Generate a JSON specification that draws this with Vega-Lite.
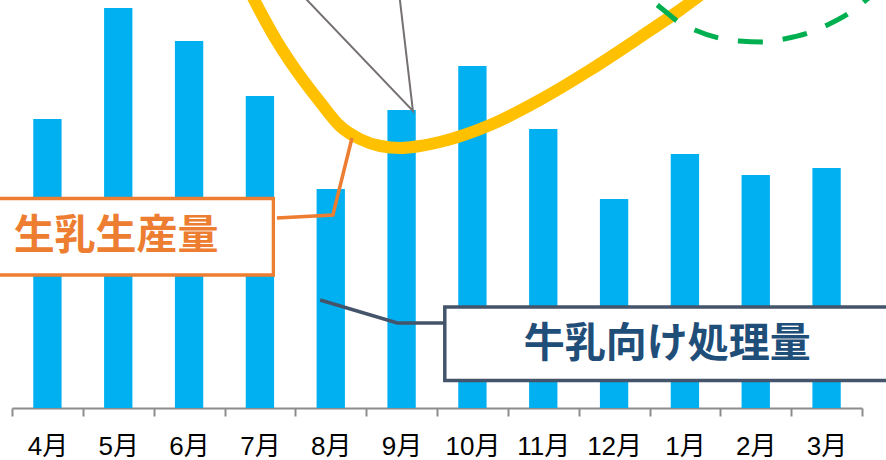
{
  "$schema": "https://vega.github.io/schema/vega-lite/v6.json",
  "width": 850,
  "height": 408,
  "autosize": {"type": "none"},
  "padding": {"left": 12, "top": 0, "right": 24, "bottom": 52},
  "background": "white",
  "config": {"view": {"stroke": null}},
  "datasets": {
    "bars": [
      {"month": "4月", "value": 289},
      {"month": "5月", "value": 400},
      {"month": "6月", "value": 367},
      {"month": "7月", "value": 312},
      {"month": "8月", "value": 219},
      {"month": "9月", "value": 298},
      {"month": "10月", "value": 342},
      {"month": "11月", "value": 279},
      {"month": "12月", "value": 209},
      {"month": "1月", "value": 254},
      {"month": "2月", "value": 233},
      {"month": "3月", "value": 240}
    ],
    "lines": [
      {"series": "production", "i": 1, "x": 3.78, "y": 428},
      {"series": "production", "i": 2, "x": 3.92, "y": 408},
      {"series": "production", "i": 3, "x": 4.07, "y": 388},
      {"series": "production", "i": 4, "x": 4.23, "y": 368},
      {"series": "production", "i": 5, "x": 4.41, "y": 348},
      {"series": "production", "i": 6, "x": 4.61, "y": 328},
      {"series": "production", "i": 7, "x": 4.86, "y": 305},
      {"series": "production", "i": 8, "x": 5.13, "y": 282},
      {"series": "production", "i": 9, "x": 5.41, "y": 269},
      {"series": "production", "i": 10, "x": 5.7, "y": 262},
      {"series": "production", "i": 11, "x": 5.98, "y": 260},
      {"series": "production", "i": 12, "x": 6.26, "y": 262},
      {"series": "production", "i": 13, "x": 6.54, "y": 266},
      {"series": "production", "i": 14, "x": 7.25, "y": 283},
      {"series": "production", "i": 15, "x": 7.95, "y": 308},
      {"series": "production", "i": 16, "x": 8.66, "y": 338},
      {"series": "production", "i": 17, "x": 9.37, "y": 371},
      {"series": "production", "i": 18, "x": 9.93, "y": 398},
      {"series": "production", "i": 19, "x": 10.35, "y": 420},
      {"series": "green", "i": 1, "x": 9.61, "y": 403},
      {"series": "green", "i": 2, "x": 9.75, "y": 395},
      {"series": "green", "i": 3, "x": 9.89, "y": 387},
      {"series": "green", "i": 4, "x": 10.14, "y": 378},
      {"series": "green", "i": 5, "x": 10.48, "y": 370},
      {"series": "green", "i": 6, "x": 10.76, "y": 367},
      {"series": "green", "i": 7, "x": 11.12, "y": 366},
      {"series": "green", "i": 8, "x": 11.4, "y": 369},
      {"series": "green", "i": 9, "x": 11.74, "y": 375},
      {"series": "green", "i": 10, "x": 12.01, "y": 383},
      {"series": "green", "i": 11, "x": 12.32, "y": 395},
      {"series": "green", "i": 12, "x": 12.61, "y": 411},
      {"series": "gray", "i": 1, "x": 4.53, "y": 418},
      {"series": "gray", "i": 2, "x": 6.16, "y": 297},
      {"series": "gray", "i": 3, "x": 5.96, "y": 418},
      {"series": "orangeLeader", "i": 1, "x": 4.24, "y": 190},
      {"series": "orangeLeader", "i": 2, "x": 5.03, "y": 193},
      {"series": "orangeLeader", "i": 3, "x": 5.3, "y": 270},
      {"series": "navyLeader", "i": 1, "x": 4.85, "y": 108},
      {"series": "navyLeader", "i": 2, "x": 5.94, "y": 85},
      {"series": "navyLeader", "i": 3, "x": 6.61, "y": 85}
    ],
    "boxes": [
      {"kind": "production", "x": 0.19, "x2": 4.19, "y": 209.5, "y2": 133, "tx": 1.97, "ty": 171, "label": "生乳生産量"},
      {"kind": "milk", "x": 6.61, "x2": 13.04, "y": 101, "y2": 27.5, "tx": 9.75, "ty": 63, "label": "牛乳向け処理量"}
    ]
  },
  "layer": [
    {
      "data": {"name": "bars"},
      "mark": {"type": "bar", "color": "#00B0F0", "width": {"band": 0.4}},
      "encoding": {
        "x": {
          "field": "month", "type": "nominal", "sort": null,
          "scale": {"paddingInner": 0, "paddingOuter": 0},
          "axis": {
            "title": null, "tickBand": "extent", "labelAngle": 0,
            "labelFont": "Liberation Sans, Noto Sans CJK JP", "labelFontSize": 26,
            "labelColor": "#000000", "labelPadding": 17.5,
            "domainColor": "#8C8C8C", "domainWidth": 2,
            "tickColor": "#8C8C8C", "tickWidth": 2, "tickSize": 8
          }
        },
        "y": {"field": "value", "type": "quantitative", "scale": {"domain": [0, 408], "nice": false}, "axis": null}
      }
    },
    {
      "layer": [
        {
          "data": {"name": "lines"},
          "transform": [{"filter": "datum.series === 'production'"}],
          "mark": {"type": "line", "color": "#FFC000", "strokeWidth": 12, "interpolate": "monotone", "strokeCap": "butt"},
          "encoding": {
            "x": {"field": "x", "type": "quantitative", "scale": {"domain": [0.5, 12.5], "nice": false, "zero": false}, "axis": null},
            "y": {"field": "y", "type": "quantitative", "scale": {"domain": [0, 408], "nice": false}, "axis": null},
            "order": {"field": "i"}
          }
        },
        {
          "data": {"name": "lines"},
          "transform": [{"filter": "datum.series === 'green'"}],
          "mark": {"type": "line", "color": "#00B050", "strokeWidth": 5, "interpolate": "monotone", "strokeDash": [25, 20], "strokeCap": "butt"},
          "encoding": {
            "x": {"field": "x", "type": "quantitative", "scale": {"domain": [0.5, 12.5], "nice": false, "zero": false}, "axis": null},
            "y": {"field": "y", "type": "quantitative", "scale": {"domain": [0, 408], "nice": false}, "axis": null},
            "order": {"field": "i"}
          }
        },
        {
          "data": {"name": "lines"},
          "transform": [{"filter": "datum.series === 'gray'"}],
          "mark": {"type": "line", "color": "#767171", "strokeWidth": 2},
          "encoding": {
            "x": {"field": "x", "type": "quantitative", "scale": {"domain": [0.5, 12.5], "nice": false, "zero": false}, "axis": null},
            "y": {"field": "y", "type": "quantitative", "scale": {"domain": [0, 408], "nice": false}, "axis": null},
            "order": {"field": "i"}
          }
        },
        {
          "data": {"name": "lines"},
          "transform": [{"filter": "datum.series === 'orangeLeader'"}],
          "mark": {"type": "line", "color": "#ED7D31", "strokeWidth": 3.5},
          "encoding": {
            "x": {"field": "x", "type": "quantitative", "scale": {"domain": [0.5, 12.5], "nice": false, "zero": false}, "axis": null},
            "y": {"field": "y", "type": "quantitative", "scale": {"domain": [0, 408], "nice": false}, "axis": null},
            "order": {"field": "i"}
          }
        },
        {
          "data": {"name": "lines"},
          "transform": [{"filter": "datum.series === 'navyLeader'"}],
          "mark": {"type": "line", "color": "#44546A", "strokeWidth": 3.5},
          "encoding": {
            "x": {"field": "x", "type": "quantitative", "scale": {"domain": [0.5, 12.5], "nice": false, "zero": false}, "axis": null},
            "y": {"field": "y", "type": "quantitative", "scale": {"domain": [0, 408], "nice": false}, "axis": null},
            "order": {"field": "i"}
          }
        },
        {
          "data": {"name": "boxes"},
          "transform": [{"filter": "datum.kind === 'production'"}],
          "mark": {"type": "rect", "fill": "white", "stroke": "#ED7D31", "strokeWidth": 3.3},
          "encoding": {
            "x": {"field": "x", "type": "quantitative", "scale": {"domain": [0.5, 12.5], "nice": false, "zero": false}, "axis": null},
            "x2": {"field": "x2"},
            "y": {"field": "y", "type": "quantitative", "scale": {"domain": [0, 408], "nice": false}, "axis": null},
            "y2": {"field": "y2"}
          }
        },
        {
          "data": {"name": "boxes"},
          "transform": [{"filter": "datum.kind === 'milk'"}],
          "mark": {"type": "rect", "fill": "white", "stroke": "#44546A", "strokeWidth": 3.5},
          "encoding": {
            "x": {"field": "x", "type": "quantitative", "scale": {"domain": [0.5, 12.5], "nice": false, "zero": false}, "axis": null},
            "x2": {"field": "x2"},
            "y": {"field": "y", "type": "quantitative", "scale": {"domain": [0, 408], "nice": false}, "axis": null},
            "y2": {"field": "y2"}
          }
        },
        {
          "data": {"name": "boxes"},
          "transform": [{"filter": "datum.kind === 'production'"}],
          "mark": {"type": "text", "font": "Noto Sans CJK JP", "fontWeight": "bold", "fontSize": 41, "color": "#ED7D31", "align": "center", "baseline": "middle"},
          "encoding": {
            "x": {"field": "tx", "type": "quantitative", "scale": {"domain": [0.5, 12.5], "nice": false, "zero": false}, "axis": null},
            "y": {"field": "ty", "type": "quantitative", "scale": {"domain": [0, 408], "nice": false}, "axis": null},
            "text": {"field": "label"}
          }
        },
        {
          "data": {"name": "boxes"},
          "transform": [{"filter": "datum.kind === 'milk'"}],
          "mark": {"type": "text", "font": "Noto Sans CJK JP", "fontWeight": "bold", "fontSize": 41, "color": "#1F4E79", "align": "center", "baseline": "middle"},
          "encoding": {
            "x": {"field": "tx", "type": "quantitative", "scale": {"domain": [0.5, 12.5], "nice": false, "zero": false}, "axis": null},
            "y": {"field": "ty", "type": "quantitative", "scale": {"domain": [0, 408], "nice": false}, "axis": null},
            "text": {"field": "label"}
          }
        }
      ]
    }
  ],
  "resolve": {"scale": {"x": "independent"}}
}
